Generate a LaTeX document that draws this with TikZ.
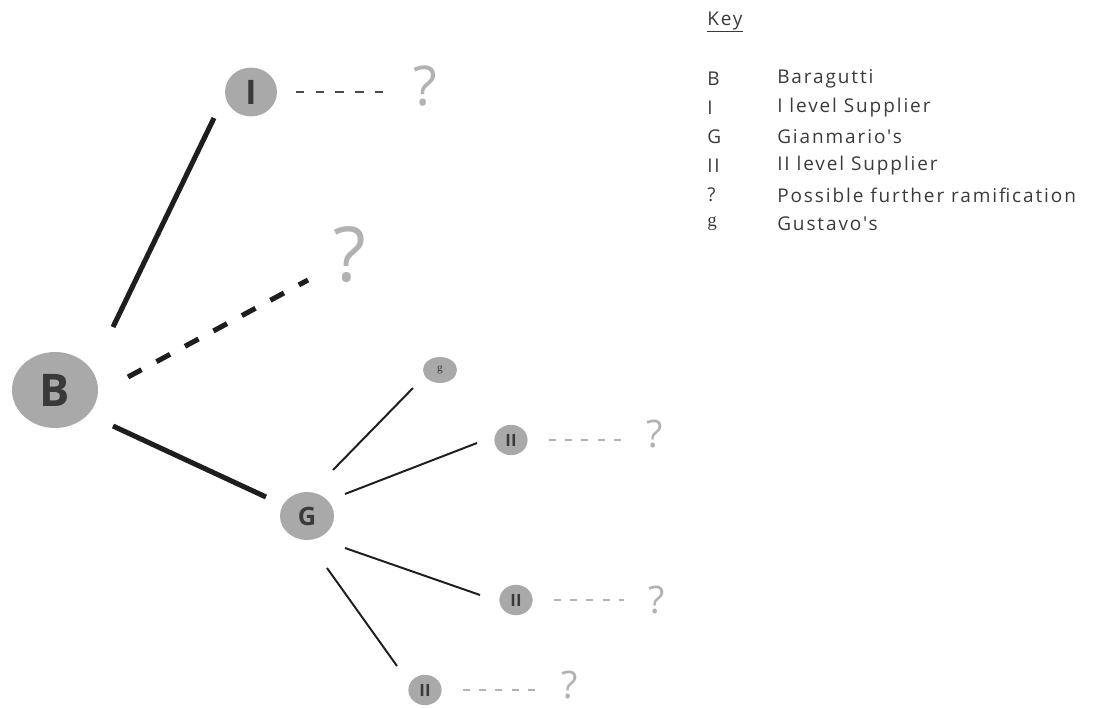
\documentclass[tikz,border=0pt]{standalone}
\usepackage{fontspec}
\setmainfont{Open Sans}
\newfontfamily\keyfont[LetterSpace=10]{Open Sans}
\newfontfamily\keyserif{Liberation Serif}
\usepackage{xcolor}
\usetikzlibrary{shapes.geometric,calc}

\definecolor{firmgray}{HTML}{A9A9A9}
\definecolor{lettergray}{HTML}{3A3A3A}
\definecolor{qgray}{HTML}{B2B2B2}
\definecolor{linedark}{HTML}{1E1E1E}

\begin{document}
\begin{tikzpicture}[x=0.025cm, y=-0.025cm,
    firm/.style={ellipse, fill=firmgray, text=lettergray, inner sep=0pt},
    supplier/.style={firm, minimum width=0.83cm, minimum height=0.76cm,
        font=\fontsize{12}{12}\selectfont\bfseries},
    ramif/.style={text=qgray, inner sep=0pt},
    strong/.style={draw=linedark, line width=3.6pt},
    weak/.style={draw=linedark, line width=3.6pt, dash pattern=on 11pt off 12pt},
    thin/.style={draw=linedark, line width=1.4pt},
    faint/.style={draw=qgray, line width=1.1pt, dash pattern=on 5pt off 6.5pt},
    keytext/.style={anchor=west, text=lettergray, inner sep=0pt,
        font=\fontsize{13.5}{13.5}\selectfont\keyfont}]
    \useasboundingbox (0,0) rectangle (1107,708);

    % Firms
    \node[firm, minimum width=2.15cm, minimum height=1.9cm,
        font=\fontsize{32}{32}\selectfont\bfseries] (B) at (55,390) {B};
    \node[firm, minimum width=1.3cm, minimum height=1.22cm,
        font=\fontsize{24}{24}\selectfont\bfseries] (I) at (251,92) {I};
    \node[firm, minimum width=1.35cm, minimum height=1.2cm,
        font=\fontsize{18}{18}\selectfont\bfseries] (G) at (307,516) {G};
    \node[firm, minimum width=0.85cm, minimum height=0.65cm,
        font=\fontsize{8}{8}\selectfont\keyserif] (g) at (440,370) {g};

    % Ramifications of B and I
    \node[ramif, font=\fontsize{54}{54}\selectfont] (q0) at (350,255) {?};
    \node[ramif, font=\fontsize{39}{39}\selectfont] (qI) at (425,86) {?};

    \draw[strong] ($(B.center)+(58,-63)$) -- ($(I.center)+(-37,26)$);
    \draw[weak] ($(B.center)+(73,-13)$) -- ($(q0.center)+(-42,25)$);
    \draw[strong] ($(B.center)+(58,36)$) -- ($(G.center)+(-41,-19)$);
    \draw[draw=linedark!80, line width=1.5pt, dash pattern=on 6pt off 8pt]
        ($(I.center)+(45,0)$) -- ($(I.center -| qI.center)+(-35,0)$);
    \draw[thin] ($(G.center)+(26,-46)$) -- ($(g.center)+(-27,18)$);

    % II level suppliers
    \foreach \n/\x/\y/\qx/\qy/\ax/\ay/\bx/\by in {1/511/440/655/434/38/-22/-34/3,
        2/516/600/657/600/38/32/-36/-5, 3/425/690/570/685/20/52/-28/-24} {
        \node[supplier] (ii\n) at (\x,\y) {II};
        \node[ramif, font=\fontsize{27}{27}\selectfont] (q\n) at (\qx,\qy) {?};
        \draw[thin] ($(G.center)+(\ax,\ay)$) -- ($(ii\n.center)+(\bx,\by)$);
        \draw[faint] ($(ii\n.center)+(38,0)$) -- ($(ii\n.center -| q\n.center)+(-33,0)$);
    }

    % Key
    \node[keytext] (key) at (707,22) {\underline{Key}};
    \foreach \sym/\desc [count=\r] in {B/Baragutti, I/I level Supplier,
        G/Gianmario's, II/II level Supplier, ?/Possible further ramification,
        {\keyserif g}/Gustavo's} {
        \node[keytext] (sym\r) at (707,{79+29*(\r-1)}) {\sym};
        \node[keytext] (desc\r) at (777,{79+29*(\r-1)}) {\desc};
    }
\end{tikzpicture}
\end{document}
